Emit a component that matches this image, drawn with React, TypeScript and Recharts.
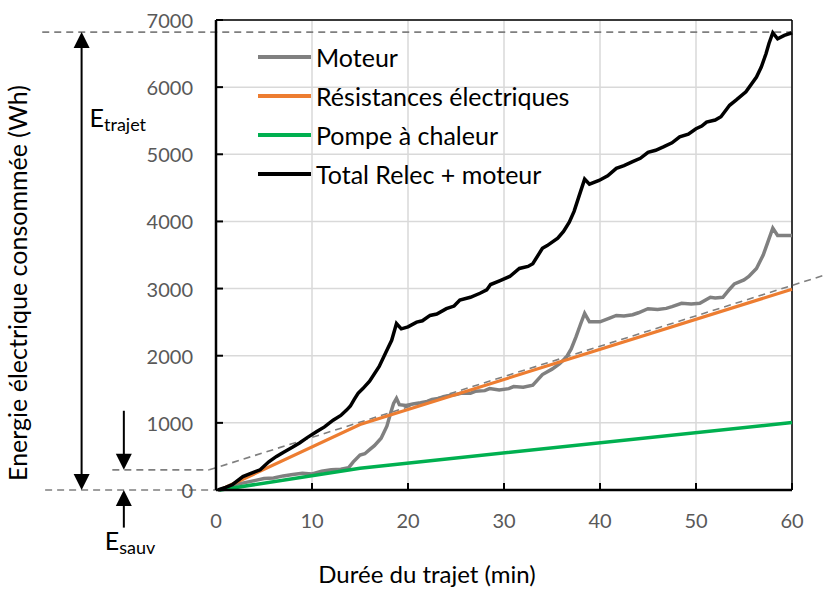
import React from 'react';
import {
  LineChart, Line, XAxis, YAxis, CartesianGrid, ReferenceLine, Legend, Customized,
} from 'recharts';

// ---------- data (time in minutes, energy in Wh) ----------
const moteurT = [0.3, 1, 2, 3, 4, 5, 6, 7, 8, 9, 10, 11, 12, 13, 13.8, 14.3, 15, 15.5, 16, 16.5, 17.2, 17.8, 18.2, 18.5, 18.8, 19.1, 19.8, 20.5, 21.3, 22, 22.5, 23.5, 24, 25, 25.5, 26.5, 27, 28, 28.5, 29.5, 30.5, 31, 32, 33, 33.5, 34, 35, 35.8, 36.5, 37, 37.5, 38, 38.4, 38.9, 40, 41, 41.7, 42.5, 43.4, 44, 45, 46, 46.9, 47.5, 48.5, 49.5, 50.4, 51, 51.5, 52, 52.8, 53.5, 54, 55, 55.5, 56.3, 57, 57.5, 58, 58.5, 59, 60];
const moteurWh = [0, 30, 80, 110, 140, 170, 180, 210, 230, 250, 240, 280, 300, 310, 330, 420, 520, 540, 600, 660, 770, 950, 1150, 1290, 1365, 1270, 1260, 1280, 1300, 1320, 1350, 1370, 1400, 1420, 1440, 1440, 1470, 1480, 1510, 1490, 1510, 1540, 1530, 1560, 1640, 1720, 1800, 1880, 1980, 2100, 2280, 2480, 2630, 2505, 2505, 2560, 2600, 2590, 2610, 2640, 2700, 2690, 2705, 2730, 2780, 2770, 2780, 2830, 2870, 2860, 2870, 2990, 3070, 3130, 3180, 3300, 3500, 3700, 3900, 3790, 3790, 3790];

const resistT = [0.4, 15, 60];
const resistWh = [0, 975, 2990];

const pompeT = [0.4, 15, 60];
const pompeWh = [0, 325, 1005];

const totalT = [0.2, 1, 1.7, 2.8, 3.5, 4.6, 5.5, 6.3, 7, 8, 8.7, 9.5, 10.5, 11.3, 12.2, 13, 13.6, 14, 14.4, 14.8, 15.3, 16, 17, 17.7, 18.3, 18.8, 19.3, 20, 20.9, 21.5, 22.3, 23, 24, 24.8, 25.4, 26.5, 27.5, 28.2, 28.6, 29.6, 30.6, 31.6, 32.5, 33, 34, 34.5, 35.6, 36.2, 36.8, 37.3, 37.8, 38.4, 38.9, 39.9, 40.8, 41.7, 42.5, 43.4, 44.2, 45, 45.8, 46.6, 47.5, 48.3, 49.2, 50, 50.6, 51.1, 52, 52.6, 53.5, 54.2, 55.2, 56.3, 56.8, 57.3, 57.6, 58, 58.5, 59.2, 60];
const totalWh = [0, 40, 80, 200, 240, 300, 420, 500, 560, 640, 700, 780, 870, 940, 1040, 1110, 1190, 1250, 1350, 1440, 1510, 1620, 1840, 2050, 2230, 2480, 2400, 2430, 2500, 2520, 2600, 2620, 2700, 2740, 2830, 2870, 2930, 2980, 3060, 3120, 3180, 3300, 3330, 3370, 3600, 3640, 3750, 3850, 3990, 4150, 4370, 4630, 4555, 4610, 4680, 4790, 4830, 4890, 4940, 5030, 5060, 5110, 5170, 5260, 5300, 5380, 5420, 5480, 5510, 5560, 5730, 5810, 5930, 6150, 6300, 6500, 6650, 6810, 6720, 6770, 6810];

const seriesNames = ['Moteur', 'Résistances électriques', 'Pompe à chaleur', 'Total Relec + moteur'];
const xTicks = [0, 10, 20, 30, 40, 50, 60];
const yTicks = [0, 1000, 2000, 3000, 4000, 5000, 6000, 7000];

// annotation values (data units)
const eTrajetWh = 6820;
const eSauvWh = 300;
const tangentEnd = { t: 63.5, wh: 3205 };

const toPoints = (t: number[], v: number[]) => t.map((x, i) => ({ t: x, wh: v[i] }));
const moteurData = toPoints(moteurT, moteurWh);
const resistData = toPoints(resistT, resistWh);
const pompeData = toPoints(pompeT, pompeWh);
const totalData = toPoints(totalT, totalWh);

const FONT = "Lato, 'Noto Sans', sans-serif";
const GRAY = '#7f7f7f';
const COLORS = ['#808080', '#ED7D31', '#00B050', '#000000'];

const XTick = (props: any) => {
  const { x, y, payload } = props;
  return (
    <g>
      <line x1={x} x2={x} y1={y} y2={y - 7} stroke="#000" strokeWidth={2} />
      <text x={x} y={y + 30} textAnchor="middle" dominantBaseline="central" fill="#595959" fontSize={20} fontFamily={FONT}>
        {payload.value}
      </text>
    </g>
  );
};

const YTick = (props: any) => {
  const { x, y, payload } = props;
  return (
    <g>
      <line x1={x} x2={x + 7} y1={y} y2={y} stroke="#000" strokeWidth={2} />
      <text x={x - 23} y={y} textAnchor="end" dominantBaseline="central" fill="#595959" fontSize={20} fontFamily={FONT}>
        {payload.value}
      </text>
    </g>
  );
};

const head = (x: number, y: number, dir: number) => {
  // dir = -1 pointing up, 1 pointing down
  const L = 16, W = 8;
  return <polygon points={`${x},${y} ${x - W},${y - dir * L} ${x + W},${y - dir * L}`} fill="#000" />;
};

const makeArrow = (both: boolean, label?: { main: string; sub: string; dx: number; dy: number; at: 'start' | 'end' }) => (p: any) => {
  const { x1, y1, x2, y2 } = p;
  const dir = y2 > y1 ? 1 : -1;
  const L = 16;
  return (
    <g>
      <line x1={x1} y1={both ? y1 + dir * (L - 2) : y1} x2={x2} y2={y2 - dir * (L - 2)} stroke="#000" strokeWidth={2} />
      {head(x2, y2, dir)}
      {both ? head(x1, y1, -dir) : null}
      {label ? (
        <text
          x={(label.at === 'start' ? x1 : x2) + label.dx}
          y={(label.at === 'start' ? y1 : y2) + label.dy}
          fontFamily={FONT}
          fontSize={25}
          fill="#000"
        >
          <tspan>{label.main}</tspan>
          <tspan fontSize={18} dy={4}>{label.sub}</tspan>
        </text>
      ) : null}
    </g>
  );
};

const Titles = () => (
  <g fontFamily={FONT} fontSize={24} fill="#000">
    <text x={427} y={573} textAnchor="middle" dominantBaseline="central">Durée du trajet (min)</text>
    <text x={17} y={283} fontSize={25} textAnchor="middle" dominantBaseline="central" transform="rotate(-90 17 283)">
      Energie électrique consommée (Wh)
    </text>
  </g>
);

const LegendContent = (props: any) => {
  const payload = [...(props.payload || [])].sort(
    (a: any, b: any) => seriesNames.indexOf(a.value) - seriesNames.indexOf(b.value),
  );
  return (
    <svg width={360} height={160} style={{ display: 'block' }}>
      {payload.map((item: any, i: number) => (
        <g key={item.value}>
          <line x1={8} x2={61} y1={20 + i * 39} y2={20 + i * 39} stroke={item.color} strokeWidth={4} />
          <text x={66} y={20 + i * 39} dominantBaseline="central" fontFamily={FONT} fontSize={25} fill="#000">
            {item.value}
          </text>
        </g>
      ))}
    </svg>
  );
};

export default function App() {
  const dash = { stroke: GRAY, strokeWidth: 1.6, strokeDasharray: '7 5', ifOverflow: 'visible' as const };
  return (
    <div style={{ position: 'absolute', left: 0, top: 0, width: 830, height: 589, background: '#fff' }}>
      <LineChart width={830} height={589} margin={{ top: 20, right: 38, bottom: 0, left: 0 }}>
        <CartesianGrid stroke="#d9d9d9" strokeWidth={1.5} />
        <XAxis
          dataKey="t"
          type="number"
          domain={[0, 60]}
          ticks={xTicks}
          height={99}
          tickSize={0}
          tickMargin={0}
          tickLine={false}
          axisLine={{ stroke: '#000', strokeWidth: 2.5 }}
          tick={<XTick />}
          interval={0}
        />
        <YAxis
          type="number"
          domain={[0, 7000]}
          ticks={yTicks}
          width={216}
          tickSize={0}
          tickMargin={0}
          tickLine={false}
          axisLine={{ stroke: '#000', strokeWidth: 2.5 }}
          tick={<YTick />}
          interval={0}
        />
        <ReferenceLine y={7000} stroke="#000" strokeWidth={1.5} />
        <ReferenceLine x={60} stroke="#000" strokeWidth={1.5} />

        <ReferenceLine segment={[{ x: -18.1, y: eTrajetWh }, { x: 60, y: eTrajetWh }]} {...dash} />
        <ReferenceLine segment={[{ x: -17.8, y: 0 }, { x: 0, y: 0 }]} {...dash} />
        <ReferenceLine segment={[{ x: -10.8, y: eSauvWh }, { x: -0.7, y: eSauvWh }]} {...dash} />
        <ReferenceLine segment={[{ x: -0.7, y: eSauvWh }, { x: tangentEnd.t, y: tangentEnd.wh }]} {...dash} />

        <ReferenceLine
          segment={[{ x: -14, y: eTrajetWh }, { x: -14, y: 0 }]}
          ifOverflow="visible"
          shape={makeArrow(true, { main: 'E', sub: 'trajet', dx: 8, dy: 95, at: 'start' })}
        />
        <ReferenceLine
          segment={[{ x: -9.6, y: 1180 }, { x: -9.6, y: eSauvWh }]}
          ifOverflow="visible"
          shape={makeArrow(false)}
        />
        <ReferenceLine
          segment={[{ x: -9.6, y: -560 }, { x: -9.6, y: 0 }]}
          ifOverflow="visible"
          shape={makeArrow(false, { main: 'E', sub: 'sauv', dx: -19, dy: 22, at: 'start' })}
        />

        <Line data={moteurData} dataKey="wh" name={seriesNames[0]} stroke={COLORS[0]} strokeWidth={3.5} dot={false} type="linear" isAnimationActive={false} />
        <Line data={resistData} dataKey="wh" name={seriesNames[1]} stroke={COLORS[1]} strokeWidth={3.2} dot={false} type="linear" isAnimationActive={false} />
        <Line data={pompeData} dataKey="wh" name={seriesNames[2]} stroke={COLORS[2]} strokeWidth={3.5} dot={false} type="linear" isAnimationActive={false} />
        <Line data={totalData} dataKey="wh" name={seriesNames[3]} stroke={COLORS[3]} strokeWidth={3.5} dot={false} type="linear" isAnimationActive={false} />

        <Legend
          layout="vertical"
          align="center"
          verticalAlign="middle"
          wrapperStyle={{ left: 250, top: 37, width: 360, height: 160 }}
          content={<LegendContent />}
        />
        <Customized component={Titles} />
      </LineChart>
    </div>
  );
}
